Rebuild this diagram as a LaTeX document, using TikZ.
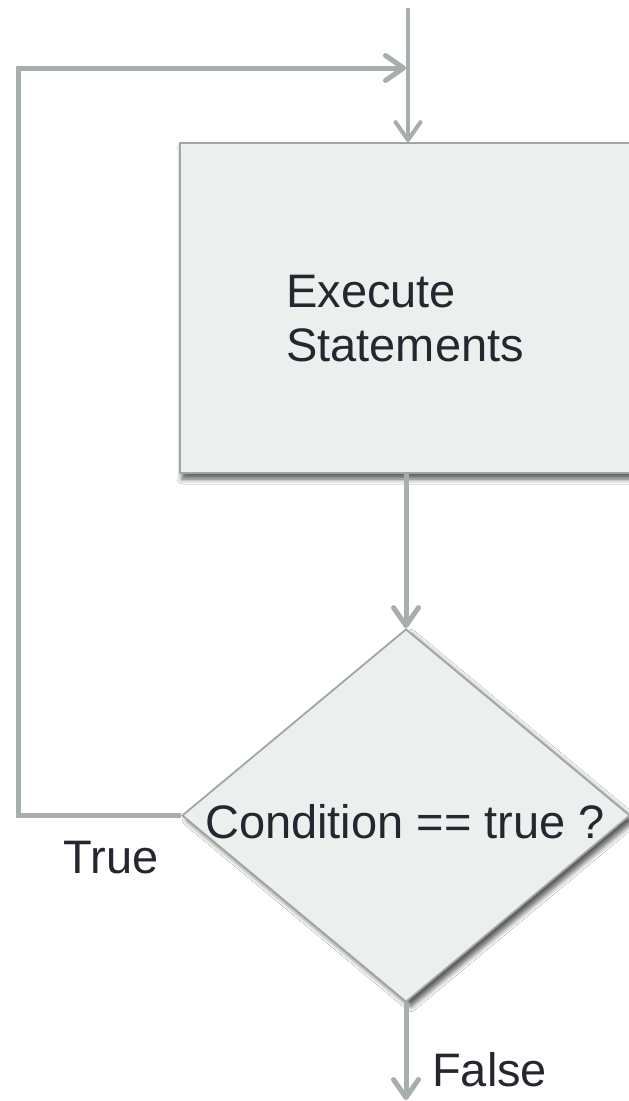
\documentclass[tikz,border=0pt]{standalone}
\usepackage{fontspec}
\setmainfont{Liberation Sans}
\usetikzlibrary{arrows.meta,shapes.geometric,shadows.blur}
\definecolor{conn}{RGB}{166,175,170}
\definecolor{boxfill}{RGB}{237,239,238}
\definecolor{boxline}{RGB}{158,168,162}
\definecolor{txt}{RGB}{38,38,48}
\begin{document}
\begin{tikzpicture}[x=1pt,y=-1pt,
  box/.style={draw=boxline, line width=1.8pt, fill=boxfill, rectangle, inner sep=0pt,
    minimum width=460pt, minimum height=330pt,
    blur shadow={shadow xshift=2pt, shadow yshift=-6pt, shadow blur radius=5pt, shadow opacity=65}},
  dia/.style={draw=boxline, line width=1.8pt, fill=boxfill, diamond, inner sep=0pt,
    minimum width=448pt, minimum height=373pt,
    blur shadow={shadow xshift=5pt, shadow yshift=-5pt, shadow blur radius=5pt, shadow opacity=65}},
  lbl/.style={text=txt, inner sep=0pt, font=\fontsize{47pt}{54pt}\selectfont},
  connarrow/.style={draw=conn, line width=5pt, -{Straight Barb[length=18pt, width=25pt, round]}},
]
\useasboundingbox (0,0) rectangle (629,1101);
\clip (0,0) rectangle (629,1101);
\fill[white] (0,0) rectangle (629,1101);

% nodes
\node[box] (exec) at (410,308) {};
\node[lbl, anchor=west, align=left] (exectext) at (286,319) {Execute\\Statements};
\node[dia] (dec) at (406,815.5) {};
\node[lbl] (condtext) at (405,822) {Condition == true ?};
\node[lbl] (truelbl) at (111,858) {True};
\node[lbl, anchor=west] (falselbl) at (432,1070) {False};

% coordinates
\coordinate (start) at (408,8);
\coordinate (loopcorner) at (18,68);
\coordinate (merge) at (406,68);
\coordinate (end) at (406,1100);

% connectors
\draw[connarrow, line width=4pt] (start) -- (start |- exec.north);
\draw[connarrow] (dec.west) -| (loopcorner) -- (merge);
\draw[connarrow] (exec.south -| dec.north) -- (dec.north);
\draw[connarrow] (dec.south) -- (end);
\end{tikzpicture}
\end{document}
